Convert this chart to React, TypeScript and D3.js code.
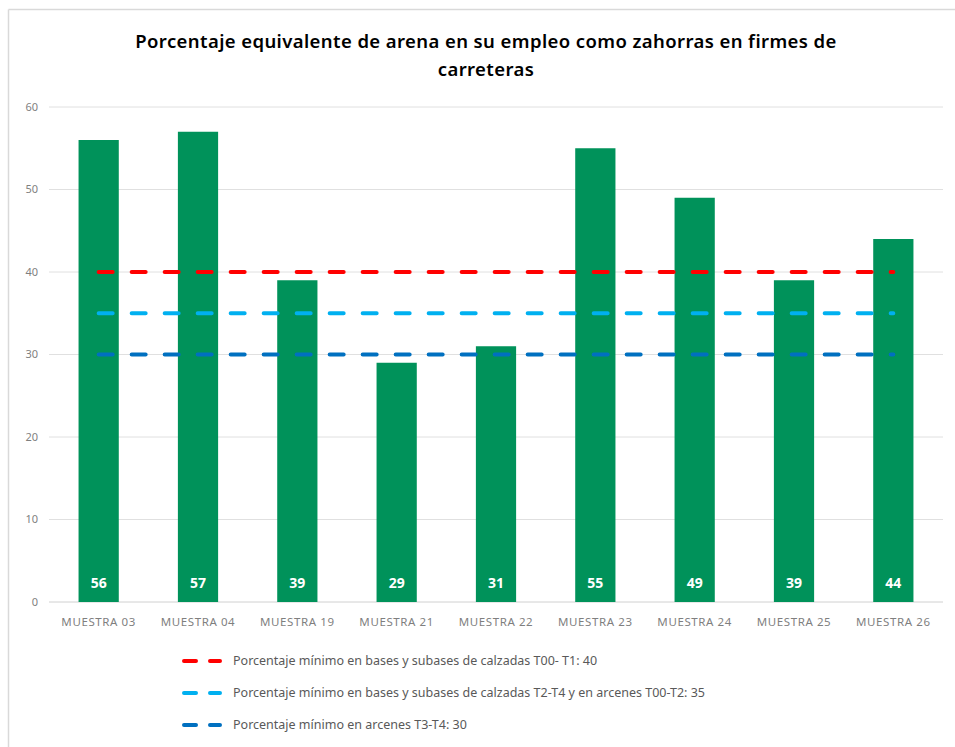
import React from "react";
import * as d3 from "d3";

const categories = ["MUESTRA 03", "MUESTRA 04", "MUESTRA 19", "MUESTRA 21", "MUESTRA 22", "MUESTRA 23", "MUESTRA 24", "MUESTRA 25", "MUESTRA 26"];
const values = [56, 57, 39, 29, 31, 55, 49, 39, 44];
const yTicks = [0, 10, 20, 30, 40, 50, 60];
const thresholdLabels = [
  "Porcentaje mínimo en bases y subases de calzadas T00- T1: 40",
  "Porcentaje mínimo en bases y subases de calzadas T2-T4 y en arcenes T00-T2: 35",
  "Porcentaje mínimo en arcenes T3-T4: 30",
];
const thresholdValues = [40, 35, 30];
const thresholdColors = ["#FF0000", "#00B0F0", "#0070C0"];
const titleLines = ["Porcentaje equivalente de arena en su empleo como zahorras en firmes de", "carreteras"];

const W = 955;
const H = 747;
const plotLeft = 49;
const plotRight = 943;
const plotTop = 107;
const plotBottom = 602;
const BAR_COLOR = "#00925A";
const FONT = "'Noto Sans', 'DejaVu Sans', sans-serif";

export default function App() {
  const x = d3.scaleBand<string>().domain(categories).range([plotLeft, plotRight]).paddingInner(0.595).paddingOuter(0.2975);
  const y = d3.scaleLinear().domain([0, 60]).range([plotBottom, plotTop]);
  const cx = (c: string) => (x(c) as number) + x.bandwidth() / 2;
  const firstC = cx(categories[0]);
  const lastC = cx(categories[categories.length - 1]);

  return (
    <svg width={W} height={H} style={{ position: "absolute", left: 0, top: 0, background: "#fff" }} xmlns="http://www.w3.org/2000/svg">
      <rect x={0} y={0} width={W} height={H} fill="#fff" />
      <line x1={8.5} y1={9.5} x2={W} y2={9.5} stroke="#d9d9d9" strokeWidth={1.5} />
      <line x1={8.5} y1={9.5} x2={8.5} y2={H} stroke="#d9d9d9" strokeWidth={1.5} />

      {titleLines.map((t, i) => (
        <text key={i} x={486} y={48 + i * 28} textAnchor="middle" fontFamily={FONT} fontSize={18.5} fontWeight={600} letterSpacing={0.4} fill="#000">
          {t}
        </text>
      ))}

      {yTicks.map((t) => (
        <g key={t}>
          <line x1={plotLeft} x2={plotRight} y1={y(t)} y2={y(t)} stroke={t === 0 ? "#d0d0d0" : "#e0e0e0"} strokeWidth={1} />
          <text x={38} y={y(t)} dy="0.35em" textAnchor="end" fontFamily={FONT} fontSize={11} fill="#7f7f7f">
            {t}
          </text>
        </g>
      ))}

      {categories.map((c, i) => (
        <g key={c}>
          <rect x={x(c)} y={y(values[i])} width={x.bandwidth()} height={y(0) - y(values[i])} fill={BAR_COLOR} />
          <text x={cx(c)} y={583} dy="0.35em" textAnchor="middle" fontFamily={FONT} fontSize={14} fontWeight={700} fill="#fff">
            {values[i]}
          </text>
          <text x={cx(c)} y={622} dy="0.35em" textAnchor="middle" fontFamily={FONT} fontSize={11.5} letterSpacing={0.6} fill="#7f7f7f">
            {c}
          </text>
        </g>
      ))}

      {thresholdValues.map((v, i) => (
        <line key={i} x1={firstC} x2={lastC} y1={y(v)} y2={y(v)} stroke={thresholdColors[i]} strokeWidth={4} strokeDasharray="14 19" strokeLinecap="round" />
      ))}

      {thresholdLabels.map((l, i) => (
        <g key={i} transform={`translate(0, ${661 + i * 32})`}>
          <line x1={184} x2={220} y1={0} y2={0} stroke={thresholdColors[i]} strokeWidth={4} strokeDasharray="12 14" strokeLinecap="round" />
          <text x={233} y={0} dy="0.35em" fontFamily={FONT} fontSize={12.5} fill="#595959">
            {l}
          </text>
        </g>
      ))}
    </svg>
  );
}
